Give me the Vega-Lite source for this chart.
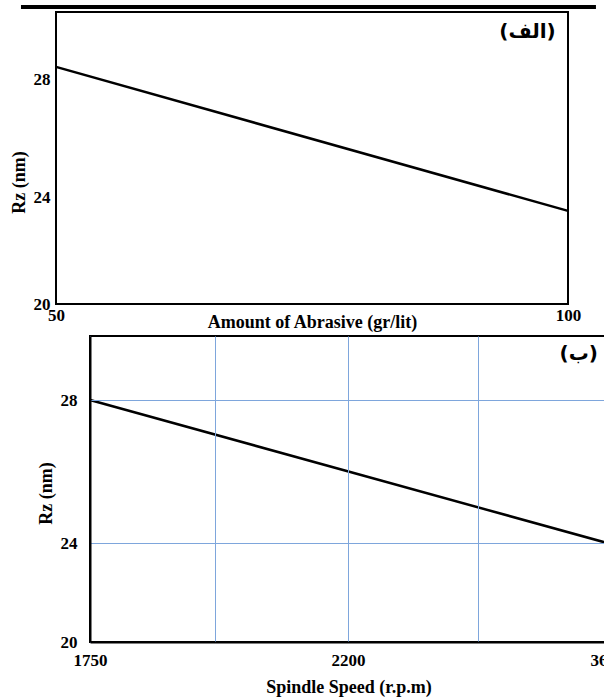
{
  "$schema": "https://vega.github.io/schema/vega-lite/v6.json",
  "background": "white",
  "padding": {"left": 0, "top": 3, "right": 0, "bottom": 0},
  "config": {
    "view": {"stroke": "black", "strokeWidth": 2},
    "font": "Liberation Serif",
    "axis": {
      "labelFont": "Liberation Serif",
      "titleFont": "Liberation Serif",
      "labelFontWeight": "bold",
      "titleFontWeight": "bold",
      "labelColor": "black",
      "titleColor": "black",
      "labelFontSize": 17,
      "titleFontSize": 18,
      "ticks": false,
      "domainColor": "black",
      "domainWidth": 2,
      "labelFlush": false,
      "labelOverlap": false,
      "format": "d"
    }
  },
  "spacing": 3,
  "vconcat": [
    {
      "spacing": 0,
      "hconcat": [
        {
          "width": 9,
          "height": 292,
          "data": {"values": [{"v": 0}]},
          "mark": {"type": "point", "opacity": 0, "size": 1},
          "view": {"stroke": null}
        },
        {
          "width": 512,
          "height": 292,
          "encoding": {
            "x": {
              "field": "a",
              "type": "quantitative",
              "scale": {"domain": [50, 100], "nice": false, "zero": false},
              "axis": {
                "values": [50, 100],
                "grid": false,
                "domain": false,
                "labelPadding": 3,
                "title": "Amount of Abrasive (gr/lit)",
                "titleY": 18,
                "titleBaseline": "middle"
              }
            },
            "y": {
              "field": "rz",
              "type": "quantitative",
              "scale": {"domain": [20, 24, 28, 30.27], "range": [292, 185, 67, 0], "nice": false, "zero": false},
              "axis": {
                "values": [20, 24, 28],
                "grid": false,
                "domain": false,
                "labelPadding": 6,
                "title": "Rz (nm)",
                "titleX": -37,
                "titleY": 170,
                "titleBaseline": "middle"
              }
            }
          },
          "layer": [
            {
              "data": {"values": [{"a": 50, "rz": 28.41}, {"a": 100, "rz": 23.48}]},
              "mark": {"type": "line", "color": "black", "strokeWidth": 2.5}
            },
            {
              "data": {"values": [{"label": "(الف)", "a": 98.8, "rz": 29.58}]},
              "mark": {"type": "text", "align": "right", "baseline": "middle", "font": "DejaVu Sans", "fontWeight": "bold", "fontSize": 20, "color": "black"},
              "encoding": {"text": {"field": "label"}}
            },
            {
              "data": {"values": [{"a": 46.58, "a2": 102.73, "rz": 30.44}]},
              "mark": {"type": "rule", "color": "black", "strokeWidth": 4},
              "encoding": {"x2": {"field": "a2"}}
            }
          ]
        }
      ]
    },
    {
      "spacing": 0,
      "hconcat": [
        {
          "width": 36,
          "height": 306,
          "data": {"values": [{"v": 0}]},
          "mark": {"type": "point", "opacity": 0, "size": 1},
          "view": {"stroke": null}
        },
        {
          "width": 517,
          "height": 306,
          "encoding": {
            "x": {
              "field": "s",
              "type": "quantitative",
              "scale": {"domain": [1750, 2200, 3600], "range": [0, 258, 517], "nice": false, "zero": false},
              "axis": {
                "values": [1750, 1968, 2200, 2903, 3600],
                "labelExpr": "datum.value == 1968 || datum.value == 2903 ? '' : datum.label",
                "grid": true,
                "gridColor": "#7ea6dc",
                "gridWidth": 1,
                "domain": true,
                "zindex": 1,
                "labelPadding": 10,
                "title": "Spindle Speed (r.p.m)",
                "titleY": 45,
                "titleBaseline": "middle"
              }
            },
            "y": {
              "field": "rz",
              "type": "quantitative",
              "scale": {"domain": [20, 24, 28, 29.79], "range": [306, 207, 64, 0], "nice": false, "zero": false},
              "axis": {
                "values": [20, 24, 28],
                "grid": true,
                "gridColor": "#7ea6dc",
                "gridWidth": 1,
                "domain": true,
                "zindex": 1,
                "labelPadding": 13,
                "title": "Rz (nm)",
                "titleX": -44,
                "titleY": 157,
                "titleBaseline": "middle"
              }
            }
          },
          "layer": [
            {
              "data": {"values": [{"s": 1750, "rz": 28.0}, {"s": 3600, "rz": 24.0}]},
              "mark": {"type": "line", "color": "black", "strokeWidth": 2.5}
            },
            {
              "data": {"values": [{"label": "(ب)", "s": 3551, "rz": 29.3}]},
              "mark": {"type": "text", "align": "right", "baseline": "middle", "font": "DejaVu Sans", "fontWeight": "bold", "fontSize": 20, "color": "black"},
              "encoding": {"text": {"field": "label"}}
            }
          ]
        }
      ]
    }
  ]
}
